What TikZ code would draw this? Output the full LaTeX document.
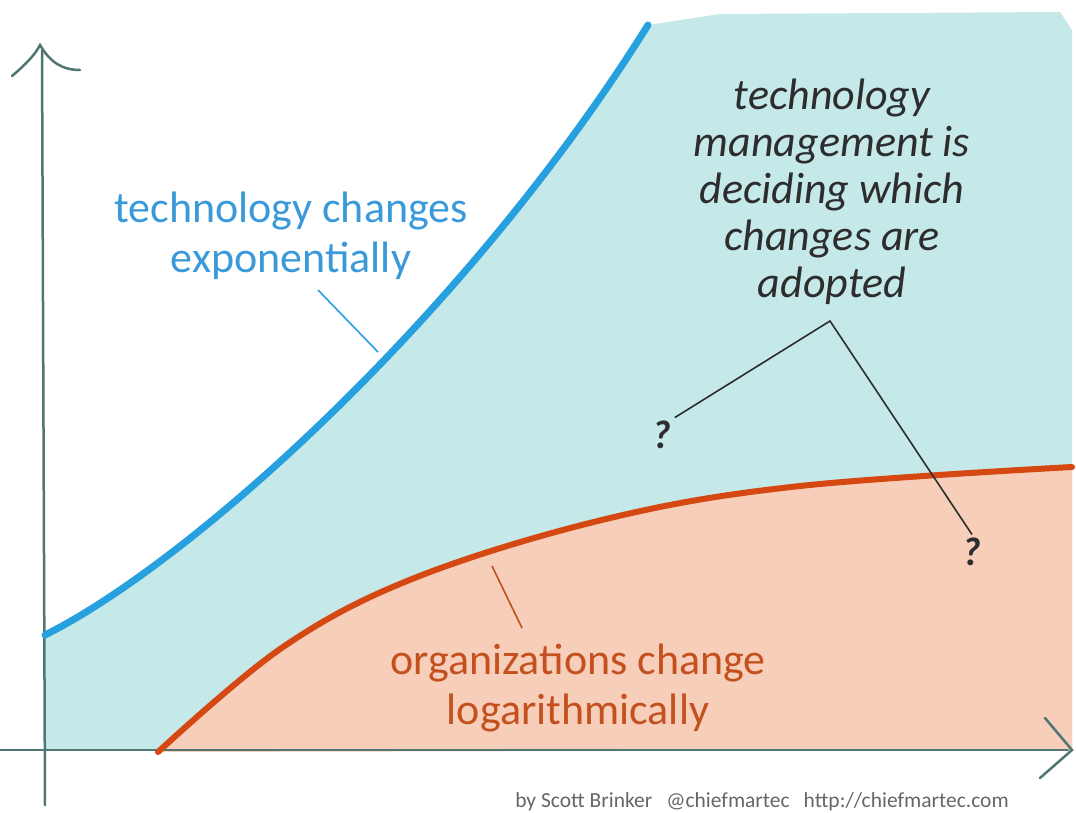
\documentclass[tikz,border=0pt]{standalone}
\usepackage{fontspec}
\setmainfont{Carlito}
\definecolor{techfill}{RGB}{197,232,232}
\definecolor{orgfill}{RGB}{246,206,186}
\definecolor{techline}{RGB}{38,160,222}
\definecolor{orgline}{RGB}{214,72,18}
\definecolor{axiscol}{RGB}{80,118,116}
\definecolor{techtext}{RGB}{58,154,217}
\definecolor{orgtext}{RGB}{196,80,30}
\definecolor{darktext}{RGB}{45,45,45}
\begin{document}
\begin{tikzpicture}[x=1pt,y=-1pt,
    axis/.style={axiscol,line width=2.5pt,line cap=round},
    bigtext/.style={align=center,font=\fontsize{44}{50}\selectfont},
    lead/.style={line width=1.6pt},
    qmark/.style={darktext,font=\fontsize{40}{40}\selectfont\bfseries\itshape}]
    \useasboundingbox (0,0) rectangle (1076,812);
    % areas
    \fill[techfill] (45,750) -- (45,635) .. controls (195,560) and (470,310) .. (648,25)
        -- (720,14) -- (1060,12) -- (1072,30) -- (1072,750) -- cycle;
    \fill[orgfill] plot[smooth,tension=0.6] coordinates {(158,752) (283,647) (417,577) (610,518) (800,486) (1072,467)}
        -- (1072,750) -- cycle;
    % axes
    \draw[axis] (45,805) -- (42,50);
    \draw[axis] (12,76) .. controls (25,65) and (35,55) .. (40,45) .. controls (50,62) and (62,70) .. (80,70);
    \draw[axis] (0,750) -- (1068,750);
    \draw[axis] (1045,718) -- (1072,750) -- (1040,778);
    % curves
    \draw[techline,line width=7pt,line cap=round] (45,635) .. controls (195,560) and (470,310) .. (648,25);
    \draw[orgline,line width=6pt,line cap=round] plot[smooth,tension=0.6] coordinates {(158,752) (283,647) (417,577) (610,518) (800,486) (1072,467)};
    % labels
    \node[bigtext,techtext] (techlbl) at (291,236) {technology changes\\exponentially};
    \node[bigtext,orgtext] (orglbl) at (578,688) {organizations change\\logarithmically};
    \node[align=center,darktext,font=\fontsize{44}{47}\selectfont\itshape] (adoptlbl) at (832,192)
        {technology\\management is\\deciding which\\changes are\\adopted};
    \node[qmark] (q1) at (662,435) {?};
    \node[qmark] (q2) at (972,552) {?};
    \node[gray!80!black,font=\fontsize{21.5}{21.5}\selectfont] (credit) at (762,802)
        {by Scott Brinker\hspace{14pt}@chiefmartec\hspace{14pt}http://chiefmartec.com};
    % leaders
    \coordinate (techfrom) at (318,290);
    \coordinate (techto) at (378,352);
    \coordinate (orgfrom) at (492,566);
    \coordinate (orgto) at (522,628);
    \coordinate (adoptv) at (830,321);
    \draw[lead,techline] (techfrom) -- (techto);
    \draw[lead,orgtext] (orgfrom) -- (orgto);
    \draw[lead,darktext] (q1.north east) -- (adoptv) -- (q2.north);
\end{tikzpicture}
\end{document}
